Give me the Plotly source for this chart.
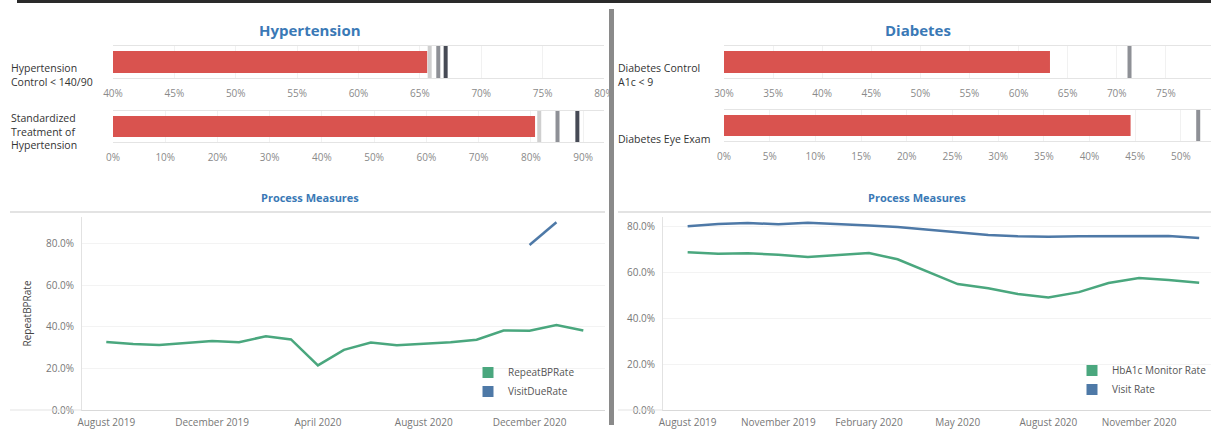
import plotly.graph_objects as go

W, H = 1211, 433
FONT = "Open Sans"

# ---------------- data ----------------
htn_categories = ["Hypertension<br>Control < 140/90", "Standardized<br>Treatment of<br>Hypertension"]
htn_values = [65.6, 80.8]
htn_ref_light = [65.8, 81.6]
htn_ref_mid = [66.5, 85.1]
htn_ref_dark = [67.1, 88.9]

dm_categories = ["Diabetes Control<br>A1c < 9", "Diabetes Eye Exam"]
dm_values = [63.2, 44.5]
dm_ref_mid = [71.3, 51.9]

htn_months = ["2019-08-01", "2019-09-01", "2019-10-01", "2019-11-01", "2019-12-01",
              "2020-01-01", "2020-02-01", "2020-03-01", "2020-04-01", "2020-05-01",
              "2020-06-01", "2020-07-01", "2020-08-01", "2020-09-01", "2020-10-01",
              "2020-11-01", "2020-12-01", "2021-01-01", "2021-02-01"]
repeat_bp_rate = [32.8, 31.8, 31.3, 32.2, 33.3, 32.7, 35.5, 34.0, 21.5, 29.0,
                  32.5, 31.2, 31.8, 32.6, 33.9, 38.3, 38.2, 41.0, 38.3]
visit_due_rate = [None] * 16 + [79.5, 90.5, None]

dm_months = ["2019-08-01", "2019-09-01", "2019-10-01", "2019-11-01", "2019-12-01",
             "2020-01-01", "2020-02-01", "2020-03-01", "2020-04-01", "2020-05-01",
             "2020-06-01", "2020-07-01", "2020-08-01", "2020-09-01", "2020-10-01",
             "2020-11-01", "2020-12-01", "2021-01-01"]
hba1c_monitor_rate = [68.7, 68.0, 68.2, 67.6, 66.6, 67.4, 68.3, 65.6, 60.0, 54.8,
                      53.0, 50.5, 49.0, 51.3, 55.3, 57.4, 56.6, 55.4]
visit_rate = [80.0, 81.0, 81.4, 80.8, 81.5, 81.0, 80.3, 79.6, 78.4, 77.3,
              76.2, 75.6, 75.4, 75.6, 75.6, 75.9, 75.7, 74.9]

RED = "#d9534f"
GREEN = "#4aa77e"
BLUE = "#4e79a7"
TITLE_BLUE = "#3a79b6"
C_LIGHT, C_MID, C_DARK = "#cfcfcf", "#8e9096", "#464a55"


def px_x(p):
    return p / W


def px_y(p):
    return 1 - p / H


fig = go.Figure()

bullets = [
    (1, htn_values[0], [(htn_ref_light[0], C_LIGHT), (htn_ref_mid[0], C_MID), (htn_ref_dark[0], C_DARK)],
     [40, 80], 5, (113, 604), (46, 78)),
    (2, htn_values[1], [(htn_ref_light[1], C_LIGHT), (htn_ref_mid[1], C_MID), (htn_ref_dark[1], C_DARK)],
     [0, 94.0], 10, (113, 604), (111, 142)),
    (3, dm_values[0], [(dm_ref_mid[0], C_MID)], [30, 79.6], 5, (724, 1211), (46, 78)),
    (4, dm_values[1], [(dm_ref_mid[1], C_MID)], [0, 53.3], 5, (724, 1211), (110, 141)),
]

for idx, val, refs, rng, dt, xd, yd in bullets:
    xa = "x" if idx == 1 else f"x{idx}"
    ya = "y" if idx == 1 else f"y{idx}"
    fig.add_trace(go.Bar(x=[val], y=[0], orientation="h", width=0.68,
                         marker=dict(color=RED, line=dict(width=0)),
                         xaxis=xa, yaxis=ya, showlegend=False, hoverinfo="x"))
    for v, c in refs:
        fig.add_trace(go.Scatter(x=[v, v], y=[-0.5, 0.5], mode="lines",
                                 line=dict(color=c, width=4), xaxis=xa, yaxis=ya,
                                 showlegend=False, hoverinfo="x"))
    key = "" if idx == 1 else str(idx)
    fig.layout["xaxis" + key] = dict(
        domain=[px_x(xd[0]), px_x(xd[1])], range=rng, anchor=ya,
        tick0=0, dtick=dt, ticksuffix="%", showgrid=True, gridcolor="#f1f1f1",
        zeroline=False, showline=True, mirror=True, linecolor="#e4e4e4", linewidth=1,
        tickfont=dict(family=FONT, size=10, color="#8a8a8a"), ticklabelstandoff=6,
        automargin=False, fixedrange=True)
    fig.layout["yaxis" + key] = dict(
        domain=[px_y(yd[1]), px_y(yd[0])], range=[-0.5, 0.5], anchor=xa,
        showticklabels=False, showgrid=False, zeroline=False, automargin=False,
        fixedrange=True)

# line charts
line_series = [
    ("x5", "y5", "legend", htn_months, repeat_bp_rate, "RepeatBPRate", GREEN),
    ("x5", "y5", "legend", htn_months, visit_due_rate, "VisitDueRate", BLUE),
    ("x6", "y6", "legend2", dm_months, hba1c_monitor_rate, "HbA1c Monitor Rate", GREEN),
    ("x6", "y6", "legend2", dm_months, visit_rate, "Visit Rate", BLUE),
]
for xa, ya, lg, xs, ys, name, col in line_series:
    fig.add_trace(go.Scatter(x=xs, y=ys, mode="lines", name=name,
                             line=dict(color=col, width=2.5), xaxis=xa, yaxis=ya,
                             showlegend=False, connectgaps=False))
    fig.add_trace(go.Scatter(x=[None], y=[None], mode="markers", name=name,
                             marker=dict(color=col, symbol="square", size=11),
                             xaxis=xa, yaxis=ya, legend=lg, showlegend=True))

tickfont = dict(family=FONT, size=10, color="#777777")
fig.layout.xaxis5 = dict(domain=[px_x(82), px_x(605)], range=["2019-07-04", "2021-02-26"],
                         anchor="y5", type="date", tick0="2019-08-01", dtick="M4",
                         tickformat="%B %Y", showgrid=False, zeroline=False,
                         showline=True, linecolor="#d9d9d9", tickfont=tickfont,
                         ticklabelstandoff=3, automargin=False, fixedrange=True)
fig.layout.yaxis5 = dict(domain=[px_y(410), px_y(217)], range=[0, 93], anchor="x5",
                         tick0=0, dtick=20, tickformat=".1f", ticksuffix="%",
                         showgrid=True, gridcolor="#f3f3f3", zeroline=False,
                         showline=True, linecolor="#e2e2e2", tickfont=tickfont,
                         ticklabelstandoff=5,
                         title=dict(text="RepeatBPRate", standoff=12,
                                    font=dict(family=FONT, size=10, color="#444444")),
                         automargin=False, fixedrange=True)
fig.layout.xaxis6 = dict(domain=[px_x(663), px_x(1211)], range=["2019-07-07", "2021-01-13"],
                         anchor="y6", type="date", tick0="2019-08-01", dtick="M3",
                         tickformat="%B %Y", showgrid=False, zeroline=False,
                         showline=True, linecolor="#d9d9d9", tickfont=tickfont,
                         ticklabelstandoff=3, automargin=False, fixedrange=True)
fig.layout.yaxis6 = dict(domain=[px_y(410), px_y(217)], range=[0, 84], anchor="x6",
                         tick0=0, dtick=20, tickformat=".1f", ticksuffix="%",
                         showgrid=True, gridcolor="#f3f3f3", zeroline=False,
                         showline=True, linecolor="#e2e2e2", tickfont=tickfont,
                         ticklabelstandoff=5, automargin=False, fixedrange=True)

legend_font = dict(family=FONT, size=10, color="#555555")
fig.layout.legend = dict(x=px_x(468), y=px_y(358), xanchor="left", yanchor="top",
                         bgcolor="rgba(0,0,0,0)", font=legend_font, tracegroupgap=0,
                         itemwidth=30)
fig.layout.legend2 = dict(x=px_x(1072), y=px_y(356), xanchor="left", yanchor="top",
                          bgcolor="rgba(0,0,0,0)", font=legend_font, tracegroupgap=0,
                          itemwidth=30)

annotations = [
    dict(text="<b>Hypertension</b>", x=px_x(310), y=px_y(30), font=dict(size=15, color=TITLE_BLUE)),
    dict(text="<b>Diabetes</b>", x=px_x(918), y=px_y(30), font=dict(size=15, color=TITLE_BLUE)),
    dict(text="<b>Process Measures</b>", x=px_x(310), y=px_y(197), font=dict(size=11, color=TITLE_BLUE)),
    dict(text="<b>Process Measures</b>", x=px_x(917), y=px_y(197), font=dict(size=11, color=TITLE_BLUE)),
]
label_pos = [(9, 75, htn_categories[0]), (9, 132, htn_categories[1]),
             (616, 75, dm_categories[0]), (616, 139, dm_categories[1])]
for lx, ly, txt in label_pos:
    annotations.append(dict(text=txt, x=px_x(lx), y=px_y(ly), xanchor="left", align="left",
                            font=dict(size=10.5, color="#333333")))
for a in annotations:
    a.setdefault("xref", "paper")
    a.setdefault("yref", "paper")
    a.setdefault("showarrow", False)
    a.setdefault("xanchor", "center")
    a.setdefault("yanchor", "middle")
    a["font"].setdefault("family", FONT)
fig.update_layout(annotations=annotations)

shapes = [
    dict(type="rect", x0=px_x(17), x1=1, y0=px_y(3), y1=1, fillcolor="#2a2a2a", line_width=0),
    dict(type="rect", x0=px_x(609), x1=px_x(614), y0=px_y(425), y1=px_y(9),
         fillcolor="#8a8a8a", line_width=0, layer="above"),
    dict(type="line", x0=px_x(10), x1=px_x(605), y0=px_y(212), y1=px_y(212),
         line=dict(color="#e3e3e3", width=2)),
    dict(type="line", x0=px_x(618), x1=1, y0=px_y(212), y1=px_y(212),
         line=dict(color="#e3e3e3", width=2)),
    dict(type="line", x0=px_x(10), x1=px_x(82), y0=px_y(410), y1=px_y(410),
         line=dict(color="#e3e3e3", width=1)),
    dict(type="line", x0=px_x(618), x1=px_x(663), y0=px_y(410), y1=px_y(410),
         line=dict(color="#e3e3e3", width=1)),
]
for s in shapes:
    s["xref"] = "paper"
    s["yref"] = "paper"
fig.update_layout(shapes=shapes)

fig.update_layout(width=W, height=H, margin=dict(l=0, r=0, t=0, b=0, autoexpand=False),
                  paper_bgcolor="white", plot_bgcolor="white",
                  font=dict(family=FONT), showlegend=True, hovermode="closest")

fig.write_html("out.html", include_plotlyjs=True, config={"displayModeBar": False})
